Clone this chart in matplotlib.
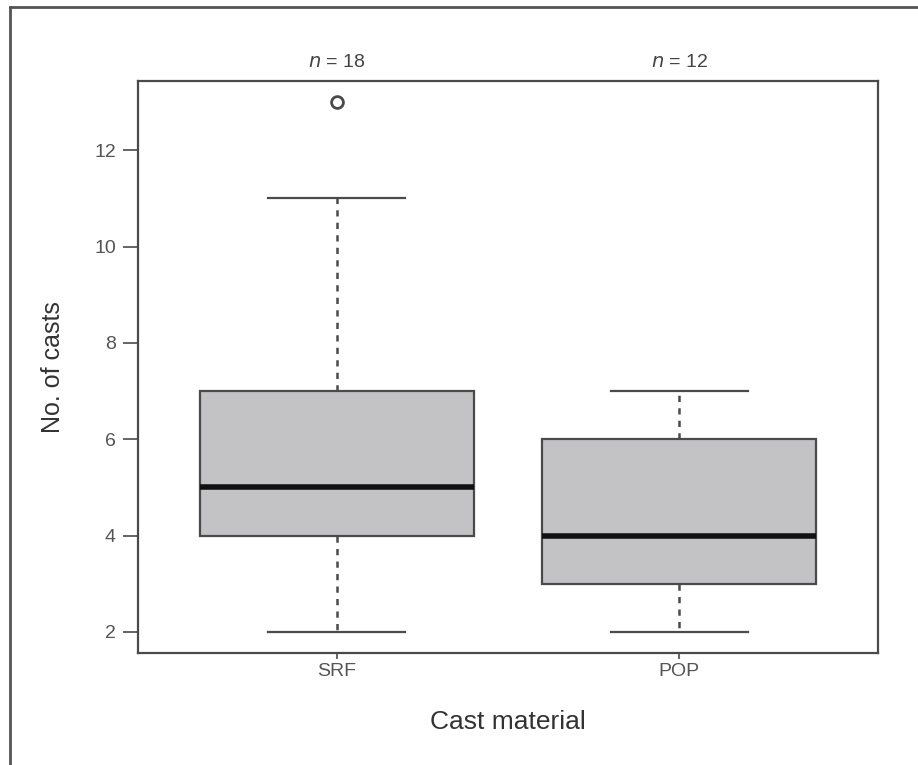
import matplotlib
matplotlib.use('Agg')
from matplotlib import pyplot as plt
from matplotlib.lines import Line2D

plt.rcParams['font.family'] = ['Liberation Sans', 'DejaVu Sans']

# data
groups = ['SRF', 'POP']
n_obs = [18, 12]
whislo = [2, 2]
q1 = [4, 3]
med = [5, 4]
q3 = [7, 6]
whishi = [11, 7]
outliers = [[13], []]

stats = []
for i in range(len(groups)):
    stats.append({'label': groups[i], 'whislo': whislo[i], 'q1': q1[i],
                  'med': med[i], 'q3': q3[i], 'whishi': whishi[i],
                  'fliers': outliers[i]})

fig = plt.figure(figsize=(9.18, 7.65), dpi=100)
ax = fig.add_axes([138 / 918, 1 - 653 / 765, (878 - 138) / 918, (653 - 81) / 765])

edge = '#4a4a4a'
ax.bxp(stats, positions=[1, 2], widths=0.8, patch_artist=True,
       boxprops=dict(facecolor='#c3c3c6', edgecolor=edge, linewidth=1.6),
       medianprops=dict(color='#111111', linewidth=4),
       whiskerprops=dict(color=edge, linewidth=1.8, linestyle=(0, (2.5, 2.5))),
       capprops=dict(color=edge, linewidth=1.6),
       capwidths=0.4,
       flierprops=dict(marker='o', markerfacecolor='none', markeredgecolor=edge,
                       markersize=8.5, markeredgewidth=2))

ax.set_xlim(0.42, 2.58)
ax.set_ylim(1.56, 13.44)
ax.set_yticks([2, 4, 6, 8, 10, 12])
ax.set_xticks([1, 2])
ax.set_xticklabels(groups)

for s in ax.spines.values():
    s.set_color(edge)
    s.set_linewidth(1.6)
ax.tick_params(colors=edge, labelcolor='#555555', labelsize=14, width=1.2)
ax.tick_params(axis='y', length=11, pad=5)
ax.tick_params(axis='x', length=4, pad=3)

# n = ... above the boxes
for i in range(len(groups)):
    ax.text(i + 1, 1.018, r'$n$ = %d' % n_obs[i], transform=ax.get_xaxis_transform(),
            ha='center', va='bottom', fontsize=14, color='#444444')

ax.set_ylabel('No. of casts', fontsize=18, color='#333333')
ax.set_xlabel('Cast material', fontsize=19, color='#333333')
ax.yaxis.label.set_va('center')
ax.xaxis.label.set_va('center')
ax.yaxis.set_label_coords((53 - 138) / 740, 0.5)
ax.xaxis.set_label_coords(0.5, (653 - 722) / 572)

# outer frame (left and top edges only visible)
fig.add_artist(Line2D([10 / 918, 10 / 918], [0, 1 - 7 / 765], color='#555555', lw=2))
fig.add_artist(Line2D([10 / 918, 1], [1 - 7 / 765, 1 - 7 / 765], color='#555555', lw=2))

plt.savefig('out.png')
